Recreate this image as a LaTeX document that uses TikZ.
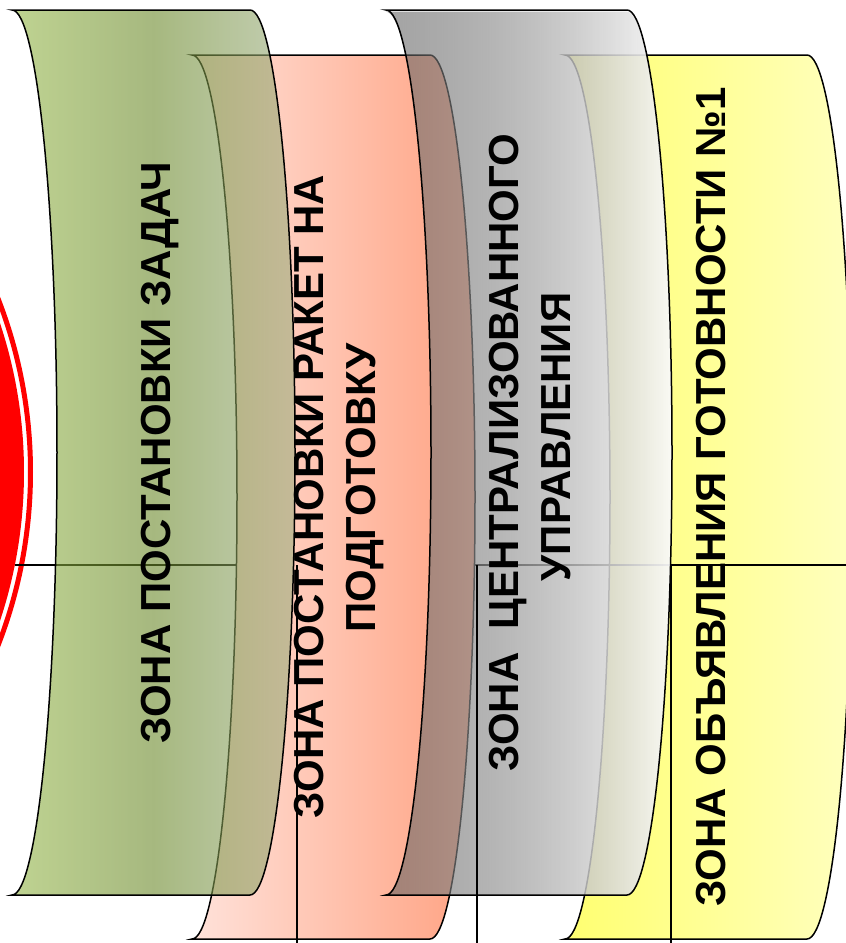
\documentclass[tikz,border=0pt]{standalone}
\usepackage{fontspec}
\setmainfont{Liberation Sans}
\usetikzlibrary{fadings}

\definecolor{verdeA}{RGB}{148,182,72}
\definecolor{verdeB}{RGB}{107,137,42}
\definecolor{verdeC}{RGB}{158,175,130}
\definecolor{rosaA}{RGB}{255,226,218}
\definecolor{rosaB}{RGB}{255,162,130}
\definecolor{grigioA}{RGB}{89,89,89}
\definecolor{grigioB}{RGB}{250,250,250}
\definecolor{gialloA}{RGB}{255,255,112}
\definecolor{gialloB}{RGB}{255,255,190}

\tikzfading[name=fadegrigio, left color=transparent!45, right color=transparent!5]

\tikzset{
	testo/.style={rotate=90, anchor=base, inner sep=0pt, font=\bfseries\fontsize{42}{50}\selectfont},
	bordo/.style={draw=black, line width=1.5pt},
	linea/.style={draw=black, line width=1.4pt}
}

% zona: #1 stile, #2 x sinistra, #3 y alto, #4 y basso, #5 larghezza
\newcommand{\zona}[5]{%
	\pgfmathsetmacro{\zxr}{#2+#5}
	\pgfmathsetmacro{\zym}{(#3+#4)/2}
	\pgfmathsetmacro{\zkh}{0.5523*(#4-#3)/2}
	\pgfmathsetmacro{\zkr}{0.5523*45}
	\path[#1] (#2,#3) -- (\zxr,#3)
		.. controls (\zxr+\zkr,#3) and (\zxr+45,\zym-\zkh) .. (\zxr+45,\zym)
		.. controls (\zxr+45,\zym+\zkh) and (\zxr+\zkr,#4) .. (\zxr,#4)
		-- (#2,#4)
		.. controls (#2+\zkr,#4) and (#2+45,\zym+\zkh) .. (#2+45,\zym)
		.. controls (#2+45,\zym-\zkh) and (#2+\zkr,#3) .. (#2,#3) -- cycle;
}

\begin{document}
\begin{tikzpicture}[x=1pt, y=-1pt]
	\useasboundingbox (0,0) rectangle (846,943);
	\clip (0,0) rectangle (846,943);
	
	% Cerchio rosso
	\fill[red] (-447,472) circle[radius=471];
	\draw[red, line width=5pt] (-447,472) circle[radius=477.5];
	
	% Zona 4 (gialla)
	\zona{left color=gialloA, right color=gialloB, bordo}{565}{55}{939}{242}
	
	% Linea orizzontale
	\draw[linea] (15,565) -- (846,565);
	
	% Zona 2 (rosa)
	\zona{left color=rosaA, right color=rosaB, bordo}{192}{55}{939}{238}
	
	% Zona 1 (verde)
	\zona{left color=verdeA, right color=verdeC, middle color=verdeB, fill opacity=0.6, bordo}{12}{10}{895}{238}
	
	% Zona 3 (grigia)
	\zona{left color=grigioA, right color=grigioB, path fading=fadegrigio}{386}{10}{895}{241}
	\zona{bordo}{386}{10}{895}{241}
	
	% Linee verticali
	\draw[linea] (297,565) -- (297,943);
	\draw[linea] (477,565) -- (477,943);
	\draw[linea] (671,565) -- (671,943);
	
	% Testi
	\node[testo] (zadach) at (170,452.5) {ЗОНА ПОСТАНОВКИ ЗАДАЧ};
	\node[testo] (raketa) at (323,496.5) {ЗОНА ПОСТАНОВКИ РАКЕТ НА};
	\node[testo] (podgot) at (375,488) {ПОДГОТОВКУ};
	\node[testo] (centra) at (518,452.5) {ЗОНА\ \ ЦЕНТРАЛИЗОВАННОГО};
	\node[testo] (uprav) at (570,437) {УПРАВЛЕНИЯ};
	\node[testo] (gotov) at (725,497) {ЗОНА ОБЪЯВЛЕНИЯ ГОТОВНОСТИ №1};
	
\end{tikzpicture}
\end{document}
